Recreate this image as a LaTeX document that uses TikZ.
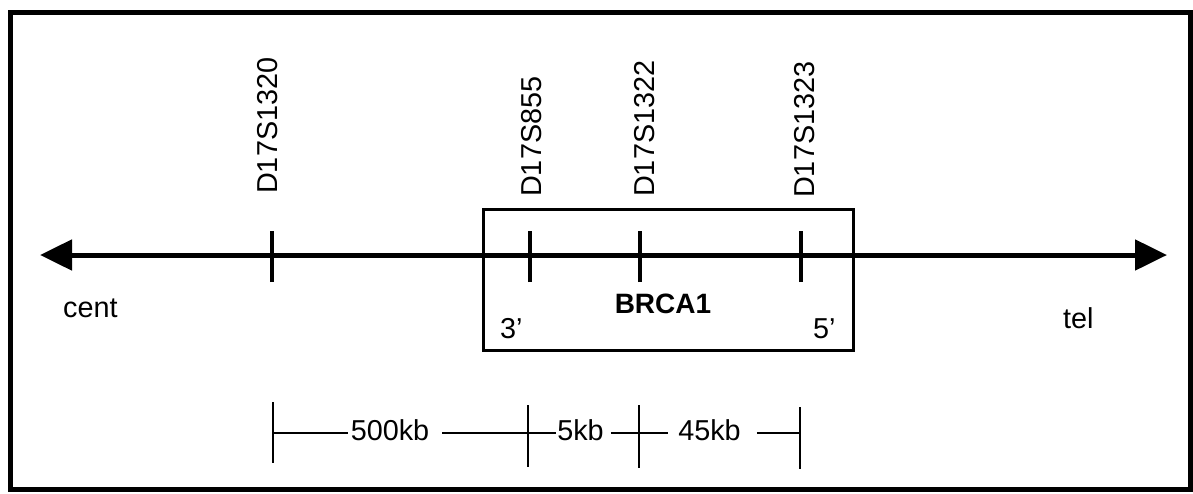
\documentclass[tikz,border=0pt]{standalone}
\usepackage{fontspec}
\setmainfont{Liberation Sans}
\usetikzlibrary{arrows.meta}
\begin{document}
\begin{tikzpicture}[x=1pt,y=-1pt,
  txt/.style={font=\fontsize{28.8}{32}\selectfont, inner sep=0pt},
  marker/.style={txt, rotate=90, anchor=west},
  axistick/.style={line width=4.5pt},
  dimtick/.style={line width=1.8pt},
  dimline/.style={line width=1.5pt},
  frame/.style={line width=5pt},
  genebox/.style={line width=2.8pt}]
\useasboundingbox (0,0) rectangle (1193,493);
% outer frame
\draw[frame] (10,12) rectangle (1190,489);
% main axis
\coordinate (L) at (40,255);
\coordinate (R) at (1167,255);
\draw[line width=5pt, {Triangle[length=32pt,width=30pt]}-{Triangle[length=32pt,width=30pt]}] (L) -- (R);
% gene box
\node[genebox, draw, minimum width=370pt, minimum height=141pt, anchor=north west, inner sep=0pt] (box) at (482,208) {};
% ticks on axis
\coordinate (t1) at (272,255);
\coordinate (t2) at (530,255);
\coordinate (t3) at (640,255);
\coordinate (t4) at (801,255);
\foreach \t in {t1,t2,t3,t4}
  \draw[axistick] ([yshift=-27pt]\t) -- ([yshift=24pt]\t);
% marker labels
\node[marker] (m1) at (268,194) {D17S1320};
\node[marker] (m2) at (532,197) {D17S855};
\node[marker] (m3) at (645,197) {D17S1322};
\node[marker] (m4) at (805,198) {D17S1323};
% end labels
\node[txt, anchor=base west] (cent) at (63,317) {cent};
\node[txt, anchor=base west] (tel) at (1063,328) {tel};
% box labels
\node[txt, anchor=base west] (p3) at (500,338) {3’};
\node[txt, anchor=base west] (p5) at (813,338) {5’};
\node[txt, font=\fontsize{28}{32}\selectfont\bfseries, anchor=base] (brca) at (663,313) {BRCA1};
% distance scale
\coordinate (d1) at (273,433);
\coordinate (d2) at (528,433);
\coordinate (d3) at (639,433);
\coordinate (d4) at (800,433);
\draw[dimtick] (273,402) -- (273,463);
\draw[dimtick] (528,405) -- (528,467);
\draw[dimtick] (639,405) -- (639,468);
\draw[dimtick] (800,407) -- (800,469);
\node[txt, anchor=base] (k500) at (390,440) {500kb};
\node[txt, anchor=base] (k5) at (580.5,440) {5kb};
\node[txt, anchor=base] (k45) at (709.5,440) {45kb};
\draw[dimline, shorten >=3pt] (d1) -- (d1 -| k500.west);
\draw[dimline, shorten <=13pt] (d1 -| k500.east) -- (d2);
\draw[dimline, shorten >=1pt] (d2) -- (d2 -| k5.west);
\draw[dimline, shorten <=7pt, shorten >=10pt] (d2 -| k5.east) -- (d2 -| k45.west);
\draw[dimline, shorten <=16pt] (d4 -| k45.east) -- (d4);
\end{tikzpicture}
\end{document}
